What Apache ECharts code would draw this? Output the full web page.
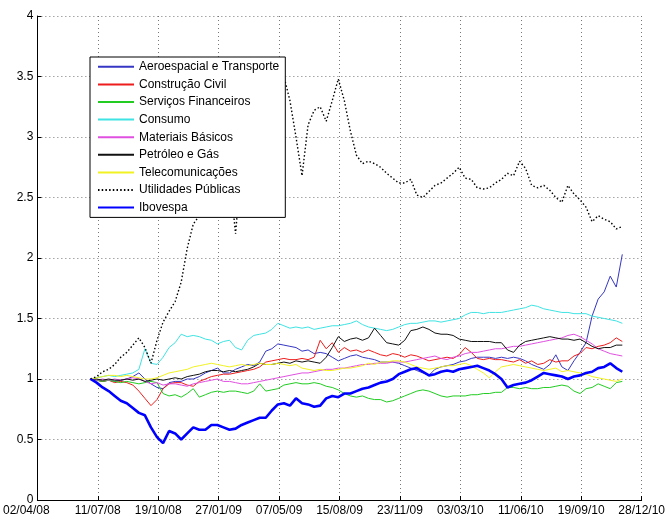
<!DOCTYPE html>
<html>
<head>
<meta charset="utf-8">
<script src="https://cdn.jsdelivr.net/npm/echarts@6/dist/echarts.min.js"></script>
<style>
  html, body { margin: 0; padding: 0; background: #fff; }
  #chart { width: 668px; height: 522px; }
</style>
</head>
<body>
<div id="chart"></div>
<script>
// Sector indices normalised to 1 at the start date; x values are days since 02/04/08.
const baseDate = Date.UTC(2008, 3, 2);
const days = [];
for (let i = 0; i <= 88; i++) days.push(88 + 10 * i);

const aeroespacial = [1.00,0.99,0.98,0.99,0.98,0.99,1.00,1.02,1.05,1.00,0.96,0.93,0.92,0.97,0.98,0.98,1.00,1.00,1.02,1.05,1.07,1.09,1.05,1.05,1.08,1.10,1.12,1.11,1.14,1.23,1.25,1.29,1.28,1.27,1.26,1.23,1.24,1.21,1.22,1.21,1.18,1.15,1.17,1.19,1.20,1.18,1.17,1.16,1.14,1.14,1.14,1.13,1.11,1.09,1.07,1.05,1.03,1.08,1.10,1.11,1.12,1.14,1.15,1.17,1.18,1.18,1.18,1.17,1.18,1.17,1.18,1.17,1.15,1.12,1.10,1.08,1.12,1.20,1.10,1.07,1.15,1.22,1.30,1.52,1.66,1.72,1.85,1.76,2.03];
const construcao = [1.00,0.99,0.98,0.99,0.97,0.98,0.97,0.95,0.90,0.84,0.78,0.83,0.92,0.96,0.97,0.97,0.95,0.94,0.98,1.00,1.02,1.03,1.04,1.04,1.05,1.06,1.07,1.08,1.10,1.14,1.15,1.16,1.17,1.16,1.16,1.17,1.16,1.18,1.32,1.25,1.30,1.22,1.26,1.23,1.24,1.22,1.24,1.22,1.20,1.19,1.21,1.20,1.18,1.20,1.19,1.17,1.15,1.16,1.17,1.18,1.17,1.20,1.26,1.22,1.17,1.16,1.17,1.16,1.16,1.15,1.14,1.16,1.13,1.15,1.12,1.13,1.16,1.14,1.15,1.15,1.19,1.21,1.26,1.25,1.27,1.28,1.30,1.34,1.31];
const servicos = [1.00,0.99,0.98,0.99,0.98,0.97,0.98,0.97,0.96,0.97,0.98,0.97,0.88,0.86,0.87,0.85,0.88,0.92,0.85,0.87,0.89,0.90,0.89,0.90,0.90,0.89,0.88,0.90,0.96,0.90,0.91,0.92,0.95,0.96,0.97,0.96,0.96,0.97,0.96,0.94,0.93,0.91,0.88,0.86,0.85,0.86,0.84,0.83,0.83,0.81,0.82,0.84,0.86,0.88,0.90,0.91,0.90,0.88,0.86,0.85,0.86,0.86,0.86,0.87,0.87,0.88,0.88,0.89,0.89,0.93,0.93,0.92,0.93,0.92,0.92,0.93,0.93,0.94,0.95,0.94,0.90,0.88,0.92,0.93,0.96,0.94,0.92,0.97,0.98];
const consumo = [1.00,1.01,1.02,1.03,1.02,1.03,1.04,1.05,1.08,1.25,1.13,1.12,1.18,1.26,1.30,1.37,1.35,1.36,1.35,1.33,1.32,1.29,1.31,1.32,1.26,1.24,1.32,1.36,1.37,1.38,1.41,1.46,1.44,1.42,1.43,1.42,1.43,1.41,1.42,1.43,1.44,1.44,1.45,1.46,1.48,1.45,1.43,1.42,1.41,1.40,1.41,1.43,1.45,1.46,1.46,1.47,1.48,1.48,1.47,1.48,1.49,1.50,1.53,1.55,1.55,1.54,1.55,1.55,1.55,1.56,1.57,1.58,1.59,1.61,1.60,1.58,1.57,1.56,1.55,1.55,1.54,1.54,1.54,1.52,1.51,1.50,1.49,1.48,1.46];
const materiais = [1.00,0.99,1.00,0.99,1.00,0.99,1.00,1.01,1.00,0.98,0.96,0.97,0.95,0.96,0.96,0.95,0.94,0.96,0.97,0.98,0.99,1.00,0.98,0.98,0.97,0.96,0.96,0.97,0.98,0.99,1.00,1.01,1.02,1.03,1.04,1.05,1.05,1.06,1.07,1.08,1.08,1.09,1.09,1.10,1.11,1.12,1.12,1.13,1.13,1.13,1.14,1.14,1.14,1.15,1.16,1.17,1.18,1.19,1.17,1.16,1.18,1.19,1.21,1.22,1.22,1.23,1.24,1.25,1.25,1.26,1.27,1.27,1.28,1.29,1.30,1.31,1.32,1.33,1.34,1.36,1.37,1.35,1.32,1.29,1.25,1.23,1.21,1.20,1.19];
const petroleo = [1.00,1.00,0.99,1.00,0.99,0.99,1.00,0.99,1.00,0.98,0.99,1.00,0.99,1.00,1.01,1.00,1.02,1.03,1.04,1.06,1.07,1.07,1.06,1.07,1.06,1.07,1.08,1.10,1.13,1.12,1.12,1.13,1.14,1.13,1.15,1.14,1.15,1.14,1.13,1.18,1.26,1.35,1.31,1.33,1.34,1.32,1.34,1.42,1.36,1.30,1.29,1.28,1.32,1.40,1.41,1.43,1.41,1.38,1.37,1.37,1.36,1.33,1.32,1.31,1.31,1.31,1.31,1.30,1.30,1.24,1.22,1.28,1.31,1.32,1.33,1.34,1.35,1.34,1.33,1.33,1.32,1.33,1.30,1.27,1.25,1.26,1.26,1.28,1.28];
const telecom = [1.00,1.01,1.02,1.03,1.03,1.02,1.03,1.02,1.01,1.00,1.00,1.01,1.03,1.05,1.06,1.07,1.08,1.10,1.11,1.12,1.13,1.12,1.11,1.10,1.11,1.12,1.11,1.12,1.13,1.12,1.12,1.13,1.12,1.11,1.12,1.09,1.08,1.07,1.08,1.07,1.07,1.08,1.09,1.09,1.10,1.11,1.13,1.12,1.14,1.14,1.15,1.15,1.14,1.12,1.10,1.09,1.08,1.09,1.10,1.11,1.11,1.12,1.13,1.11,1.08,1.05,1.01,1.06,1.10,1.11,1.12,1.11,1.10,1.09,1.08,1.07,1.08,1.09,1.06,1.07,1.06,1.05,1.04,1.02,1.01,1.00,0.99,0.98,1.00];
const utilidades = [1.00,1.02,1.06,1.08,1.12,1.18,1.22,1.28,1.34,1.26,1.13,1.32,1.47,1.56,1.64,1.80,2.08,2.28,2.35,2.55,2.75,2.90,3.00,2.70,2.20,2.80,3.10,3.25,3.30,3.35,3.40,3.45,3.50,3.30,3.00,2.68,3.10,3.22,3.25,3.13,3.30,3.48,3.30,3.05,2.85,2.78,2.80,2.78,2.75,2.70,2.66,2.62,2.62,2.65,2.52,2.50,2.55,2.60,2.62,2.66,2.70,2.75,2.66,2.65,2.58,2.57,2.58,2.62,2.65,2.70,2.68,2.80,2.74,2.60,2.58,2.60,2.56,2.50,2.46,2.60,2.53,2.48,2.42,2.30,2.35,2.32,2.30,2.24,2.26];
const ibovespa = [1.00,0.97,0.93,0.90,0.86,0.82,0.80,0.76,0.72,0.70,0.60,0.52,0.47,0.57,0.55,0.50,0.55,0.60,0.58,0.58,0.62,0.62,0.60,0.58,0.59,0.62,0.64,0.66,0.68,0.68,0.74,0.79,0.80,0.78,0.84,0.80,0.79,0.77,0.78,0.84,0.86,0.85,0.88,0.88,0.90,0.92,0.93,0.95,0.97,0.98,1.00,1.04,1.06,1.08,1.09,1.06,1.03,1.04,1.06,1.07,1.06,1.08,1.09,1.10,1.11,1.09,1.07,1.04,1.00,0.93,0.95,0.96,0.97,0.99,1.02,1.05,1.04,1.03,1.02,1.00,1.02,1.03,1.05,1.06,1.09,1.10,1.13,1.09,1.06];

const seriesNames = ['Aeroespacial e Transporte','Construção Civil','Serviços Financeiros','Consumo','Materiais Básicos','Petróleo e Gás','Telecomunicações','Utilidades Públicas','Ibovespa'];
const seriesValues = [aeroespacial, construcao, servicos, consumo, materiais, petroleo, telecom, utilidades, ibovespa];
const seriesColors = ['#3636c4','#ee1c1c','#22cc22','#3fe3e3','#e050e0','#111111','#f2f222','#000000','#0000ff'];

function pad2(n) { return (n < 10 ? '0' : '') + n; }
function dayLabel(d) {
  const t = new Date(baseDate + d * 86400000);
  return pad2(t.getUTCDate()) + '/' + pad2(t.getUTCMonth() + 1) + '/' + pad2(t.getUTCFullYear() % 100);
}

const font = 'Liberation Sans, Arial, sans-serif';
const series = seriesNames.map((name, k) => ({
  name: name,
  type: 'line',
  symbol: 'none',
  showSymbol: false,
  data: days.map((d, i) => [d, seriesValues[k][i]]),
  lineStyle: {
    color: seriesColors[k],
    width: name === 'Ibovespa' ? 2.6 : (name === 'Utilidades Públicas' ? 1.4 : 1),
    type: name === 'Utilidades Públicas' ? [1.5, 2.2] : 'solid'
  },
  itemStyle: { color: seriesColors[k] },
  emphasis: { disabled: true }
}));

const chart = echarts.init(document.getElementById('chart'), null, { renderer: 'canvas' });
chart.setOption({
  animation: false,
  backgroundColor: '#ffffff',
  grid: { left: 35, right: 25, top: 16, bottom: 22 },
  xAxis: {
    type: 'value',
    min: 0, max: 1000, interval: 100,
    axisLine: { show: true, lineStyle: { color: '#000', width: 1 } },
    axisTick: { show: true, inside: true, length: 4, lineStyle: { color: '#000' } },
    axisLabel: {
      color: '#000', fontFamily: font, fontSize: 12, margin: 5,
      // the first date sits flush with the left edge of the figure
      formatter: v => v === 0 ? '{first|' + dayLabel(v) + '}' : dayLabel(v),
      rich: { first: { color: '#000', fontFamily: font, fontSize: 12, padding: [0, 22, 0, 0] } }
    },
    splitLine: { show: true, lineStyle: { color: '#777', width: 1, type: [1, 3] } }
  },
  yAxis: {
    type: 'value',
    min: 0, max: 4, interval: 0.5,
    axisLine: { show: true, lineStyle: { color: '#000', width: 1 } },
    axisTick: { show: true, inside: true, length: 4, lineStyle: { color: '#000' } },
    axisLabel: { color: '#000', fontFamily: font, fontSize: 12, margin: 4 },
    splitLine: { show: true, lineStyle: { color: '#777', width: 1, type: [1, 3] } }
  },
  legend: {
    orient: 'vertical',
    left: 90, top: 57,
    padding: [1, 6, 1, 7],
    itemWidth: 36, itemHeight: 14, itemGap: 0,
    backgroundColor: '#fff',
    borderColor: '#000', borderWidth: 1,
    itemStyle: { color: 'rgba(0,0,0,0)', borderColor: 'rgba(0,0,0,0)', borderWidth: 0, opacity: 0 },
    textStyle: { color: '#000', fontFamily: font, fontSize: 12, lineHeight: 17.6 },
    selectedMode: false,
    data: seriesNames
  },
  series: series
});
</script>
</body>
</html>
